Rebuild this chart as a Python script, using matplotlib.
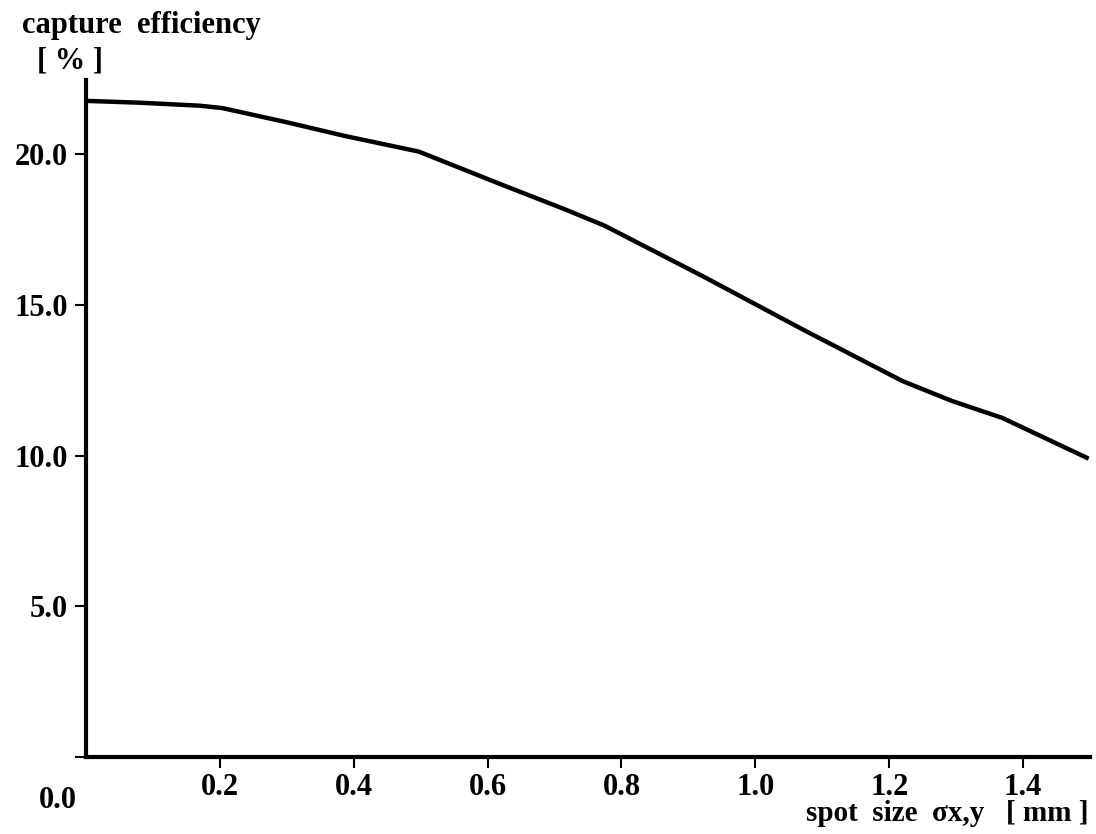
import matplotlib
matplotlib.use("Agg")
import matplotlib.pyplot as plt

# spot size sigma_x,y [mm] vs capture efficiency [%]
spot_size = [0.0, 0.08, 0.17, 0.204, 0.30, 0.388, 0.497, 0.626, 0.715,
             0.775, 0.923, 1.071, 1.220, 1.294, 1.369, 1.498]
efficiency = [21.76, 21.70, 21.60, 21.52, 21.05, 20.59, 20.08, 18.94, 18.17,
              17.62, 15.93, 14.18, 12.47, 11.81, 11.25, 9.9]

xticks = [0.2, 0.4, 0.6, 0.8, 1.0, 1.2, 1.4]
yticks = [0.0, 5.0, 10.0, 15.0, 20.0]
ytick_labels = ["", "5.0", "10.0", "15.0", "20.0"]

plt.rcParams['font.family'] = ['Liberation Serif', 'DejaVu Serif']
plt.rcParams['font.weight'] = 'bold'

fig = plt.figure(figsize=(10.96, 8.34), dpi=100)
ax = fig.add_axes([0.0785, 0.092, 0.916, 0.812])

ax.plot(spot_size, efficiency, color="black", lw=3.2, solid_capstyle="butt")

ax.set_xlim(0, 1.5)
ax.set_ylim(0, 22.45)

for side in ["top", "right"]:
    ax.spines[side].set_visible(False)
for side in ["left", "bottom"]:
    ax.spines[side].set_linewidth(3)

ax.set_xticks(xticks)
ax.set_xticklabels(["%.1f" % v for v in xticks])
ax.set_yticks(yticks)
ax.set_yticklabels(ytick_labels)
ax.tick_params(axis="both", direction="out", length=8, width=1.5,
               labelsize=22, colors="black")
ax.tick_params(axis="x", pad=3)
ax.tick_params(axis="y", pad=5)

# origin label
ax.annotate("0.0", xy=(0, 0), xytext=(-20, -31), textcoords="offset points",
            ha="center", va="center", fontsize=22, fontweight="bold",
            annotation_clip=False)

fig.text(0.02, 0.97, "capture  efficiency", fontsize=22, fontweight="bold",
         ha="left", va="center")
fig.text(0.034, 0.927, "[ % ]", fontsize=22, fontweight="bold",
         ha="left", va="center")
fig.text(0.993, 0.024, "spot  size  \u03c3x,y   [ mm ]", fontsize=21,
         fontweight="bold", ha="right", va="center")

fig.savefig("out.png", dpi=100, facecolor="white")
